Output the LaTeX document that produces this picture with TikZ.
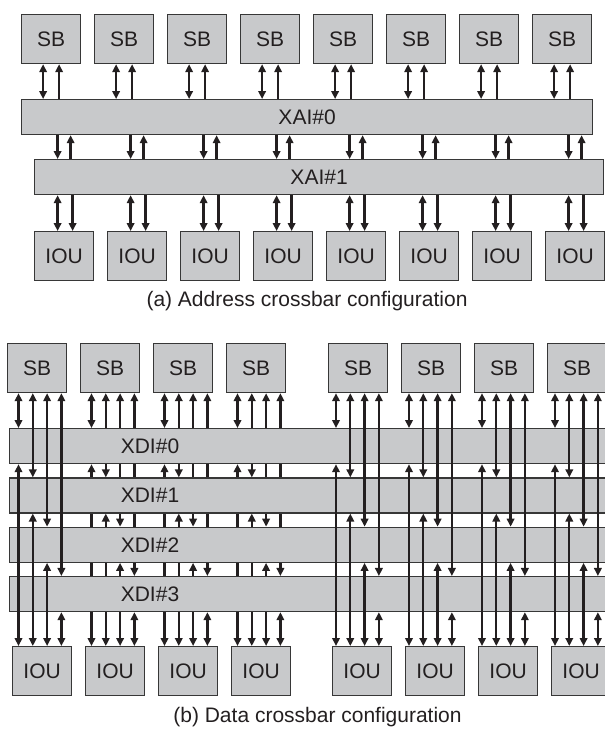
\documentclass[tikz,border=0pt]{standalone}
\usepackage{fontspec}
\setmainfont{Liberation Sans}
\usetikzlibrary{arrows.meta}
\definecolor{boxfill}{RGB}{200,201,203}
\definecolor{boxline}{RGB}{55,55,55}
\definecolor{ink}{RGB}{35,31,32}
\pgfdeclarelayer{behind}
\pgfsetlayers{behind,main}

\begin{document}
\begin{tikzpicture}[x=1pt,y=-1pt,>={Triangle[length=8pt,width=7.5pt]},
  every node/.style={font=\fontsize{21}{25}\selectfont,text=ink,inner sep=0pt},
  unit/.style={draw=boxline,fill=boxfill,line width=1.2pt,anchor=north west,
    minimum width=59pt,minimum height=49pt},
  bar/.style={draw=boxline,fill=boxfill,line width=1.2pt,anchor=north west,
    minimum height=35pt},
  link/.style={draw=ink,line width=2.3pt}]
\useasboundingbox (0,0) rectangle (605,729);
\clip (0,0) rectangle (605,729);

% (a) address crossbar
\foreach \j in {1,...,8}{
  \node[unit] (sba\j) at ({21+73*(\j-1)},14) {SB};
  \node[unit] (ioua\j) at ({34+73*(\j-1)},231) {IOU};
}
\node[bar,minimum width=571pt] (xai0) at (21,99) {XAI\#0};
\node[bar,minimum width=569pt] (xai1) at (34,159) {XAI\#1};
\foreach \j in {1,...,8}{
  \draw[link,<->] ([xshift=-8pt]sba\j.south) -- ([xshift=-8pt]sba\j.south |- xai0.north);
  \draw[link,<-] ([xshift=8pt]sba\j.south) -- ([xshift=8pt]sba\j.south |- xai0.north);
  \draw[link,->] ([xshift=-6.5pt]ioua\j.north |- xai0.south) -- ([xshift=-6.5pt]ioua\j.north |- xai1.north);
  \draw[link,<-] ([xshift=6.5pt]ioua\j.north |- xai0.south) -- ([xshift=6.5pt]ioua\j.north |- xai1.north);
  \draw[link,<->] ([xshift=-6.5pt]ioua\j.north |- xai1.south) -- ([xshift=-6.5pt]ioua\j.north);
  \draw[link,->] ([xshift=8.5pt]ioua\j.north |- xai1.south) -- ([xshift=8.5pt]ioua\j.north);
}
\node (capa) at (307,301) {(a) Address crossbar configuration};

% (b) data crossbar
\foreach \j/\sx/\ix in {1/7/12,2/80/85,3/153/158,4/226/231,5/328/332,6/401/405,7/474/478,8/547/551}{
  \node[unit] (sbb\j) at (\sx,343) {SB};
  \node[unit] (ioub\j) at (\ix,646) {IOU};
}
\foreach \k in {0,...,3}{
  \node[bar,minimum width=610pt] (xdi\k) at (9,{428+49.33*\k}) {};
  \node (xdit\k) at (xdi\k.center -| 150,0) {XDI\#\k};
}
% wires hidden behind the bars
\begin{pgfonlayer}{behind}
\foreach \j/\lx in {2/91.5,3/164.5,4/237.5}
  \foreach \k in {0,...,3}{
    \pgfmathsetmacro\lxk{\lx+14.3*\k}
    \draw[link,<->] (sbb\j.south -| \lxk,0) -- (xdi\k.north -| \lxk,0);
    \draw[link,<->] (xdi\k.south -| \lxk,0) -- (ioub\j.north -| \lxk,0);
  }
\end{pgfonlayer}
% wires in front of the bars
\foreach \j/\lx in {1/18.5,5/336,6/409,7/482,8/555}
  \foreach \k in {0,...,3}{
    \pgfmathsetmacro\lxk{\lx+14.3*\k}
    \draw[link,<->] (sbb\j.south -| \lxk,0) -- (xdi\k.north -| \lxk,0);
    \draw[link,<->] (xdi\k.south -| \lxk,0) -- (ioub\j.north -| \lxk,0);
  }
\node (capb) at (317.5,717) {(b) Data crossbar configuration};
\end{tikzpicture}
\end{document}
